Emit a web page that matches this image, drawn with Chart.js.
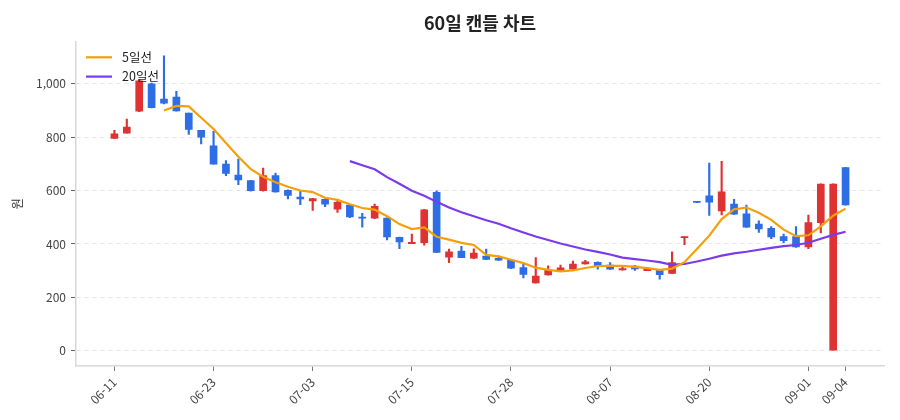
<!DOCTYPE html>
<html lang="ko">
<head>
<meta charset="utf-8">
<title>60일 캔들 차트</title>
<script src="https://cdn.jsdelivr.net/npm/chart.js@4/dist/chart.umd.min.js"></script>
<style>
  html, body { margin: 0; padding: 0; background: #fff; }
  #wrap { width: 900px; height: 420px; }
</style>
</head>
<body>
<div id="wrap"><canvas id="chart"></canvas></div>
<script>
// 60 trading days (MM-DD)
const dates = [
  '06-11','06-12','06-13','06-16','06-17','06-18','06-19','06-20','06-23','06-24',
  '06-25','06-26','06-27','06-30','07-01','07-02','07-03','07-04','07-07','07-08',
  '07-09','07-10','07-11','07-14','07-15','07-16','07-17','07-18','07-21','07-22',
  '07-23','07-24','07-28','07-29','07-30','07-31','08-01','08-04','08-05','08-06',
  '08-07','08-08','08-11','08-12','08-13','08-14','08-18','08-19','08-20','08-21',
  '08-22','08-25','08-26','08-27','08-28','08-29','09-01','09-02','09-03','09-04',
];
const opens = [
  795, 815, 897, 1000, 943, 950, 890, 826, 768, 699,
  658, 637, 600, 656, 601, 576, 561, 567, 530, 546,
  501, 497, 497, 425, 401, 405, 593, 351, 373, 347,
  355, 346, 340, 312, 254, 284, 300, 306, 325, 331,
  321, 303, 317, 300, 303, 290, 424, 560, 580, 524,
  549, 513, 475, 459, 428, 428, 389, 480, 0, 686,
];
const highs = [
  826, 868, 1015, 1003, 1105, 972, 890, 826, 822, 712,
  718, 638, 684, 666, 603, 597, 571, 569, 563, 547,
  515, 549, 498, 426, 437, 530, 599, 381, 391, 382,
  381, 355, 341, 326, 349, 318, 321, 336, 339, 333,
  330, 318, 319, 312, 305, 371, 428, 560, 703, 710,
  567, 546, 487, 465, 437, 465, 508, 625, 625, 687,
];
const lows = [
  795, 815, 896, 910, 925, 897, 810, 775, 699, 656,
  622, 598, 598, 594, 569, 547, 526, 540, 518, 499,
  463, 495, 415, 382, 401, 396, 367, 330, 349, 345,
  341, 338, 308, 273, 253, 283, 299, 305, 324, 306,
  305, 302, 301, 300, 268, 289, 397, 555, 507, 509,
  511, 462, 443, 420, 405, 387, 382, 441, 0, 545,
];
const closes = [
  813, 838, 1011, 911, 927, 898, 829, 800, 699, 664,
  640, 600, 656, 595, 582, 569, 570, 549, 556, 501,
  497, 541, 426, 408, 406, 528, 368, 371, 349, 366,
  342, 339, 309, 286, 280, 302, 311, 325, 333, 317,
  306, 308, 307, 309, 285, 330, 428, 556, 557, 595,
  512, 463, 456, 426, 412, 389, 480, 624, 624, 546,
];
const tickIndex = [0, 8, 16, 24, 32, 40, 48, 56, 59];
const yTicks = [0, 200, 400, 600, 800, 1000];

const UP = '#df3333';
const DOWN = '#2d6de6';
const MA5_COLOR = '#f59f0a';
const MA20_COLOR = '#7b3aec';

/** simple moving average of closes, null until the window is full */
function movingAverage(values, n) {
  return values.map((_, i) => {
    if (i < n - 1) return null;
    let sum = 0;
    for (let j = i - n + 1; j <= i; j++) sum += values[j];
    return sum / n;
  });
}

const ma5 = movingAverage(closes, 5);
const ma20 = movingAverage(closes, 20);

const candleColor = ctx => (closes[ctx.dataIndex] >= opens[ctx.dataIndex] ? UP : DOWN);

/** legend drawn inside the plot, top-left, stacked vertically */
const insideLegend = {
  id: 'insideLegend',
  afterDatasetsDraw(chart) {
    const { ctx, chartArea } = chart;
    const items = chart.data.datasets.filter(ds => ds.type === 'line');
    ctx.save();
    ctx.font = "12.5px 'Noto Sans CJK KR', 'Noto Sans', sans-serif";
    ctx.textBaseline = 'middle';
    items.forEach((ds, k) => {
      const y = chartArea.top + 15.7 + k * 19.3;
      const x = chartArea.left + 10;
      ctx.strokeStyle = ds.borderColor;
      ctx.lineWidth = ds.borderWidth;
      ctx.beginPath();
      ctx.moveTo(x, y);
      ctx.lineTo(x + 26, y);
      ctx.stroke();
      ctx.fillStyle = '#222';
      ctx.fillText(ds.label, x + 36, y);
    });
    ctx.restore();
  },
};

Chart.defaults.font.family = "'Noto Sans CJK KR', 'Noto Sans', sans-serif";
Chart.defaults.color = '#444';

new Chart(document.getElementById('chart'), {
  data: {
    datasets: [
      {
        type: 'line',
        label: '5일선',
        data: ma5.map((v, i) => ({ x: i, y: v })),
        borderColor: MA5_COLOR,
        backgroundColor: MA5_COLOR,
        borderWidth: 2.2,
        pointRadius: 0,
        tension: 0,
        order: 0,
      },
      {
        type: 'line',
        label: '20일선',
        data: ma20.map((v, i) => ({ x: i, y: v })),
        borderColor: MA20_COLOR,
        backgroundColor: MA20_COLOR,
        borderWidth: 2.2,
        pointRadius: 0,
        tension: 0,
        order: 1,
      },
      {
        type: 'bar',
        label: 'body',
        data: opens.map((o, i) => ({ x: i, y: [o, closes[i]] })),
        backgroundColor: candleColor,
        barThickness: 7,
        grouped: false,
        order: 2,
      },
      {
        type: 'bar',
        label: 'wick',
        data: lows.map((l, i) => ({ x: i, y: [l, highs[i]] })),
        backgroundColor: candleColor,
        barThickness: 1.5,
        grouped: false,
        order: 3,
      },
    ],
  },
  plugins: [insideLegend],
  options: {
    responsive: true,
    maintainAspectRatio: false,
    animation: false,
    layout: { padding: { left: 8, right: 16, top: 2, bottom: 0 } },
    plugins: {
      title: {
        display: true,
        text: '60일 캔들 차트',
        fullSize: false,
        color: '#222',
        font: { size: 18, weight: 'bold' },
        padding: { top: 10, bottom: 8 },
      },
      legend: { display: false },
      tooltip: { enabled: false },
    },
    scales: {
      x: {
        type: 'linear',
        min: -3.1,
        max: 62.1,
        offset: false,
        afterFit(scale) { scale.height = 54; },
        afterBuildTicks(scale) { scale.ticks = tickIndex.map(v => ({ value: v })); },
        grid: { drawOnChartArea: false, offset: false, tickLength: 5, tickColor: '#777' },
        border: { color: '#d5d9df', width: 1.5 },
        ticks: {
          autoSkip: false,
          minRotation: 45,
          maxRotation: 45,
          padding: 4,
          font: { size: 12 },
          callback: v => dates[v],
        },
      },
      y: {
        min: -57,
        max: 1158,
        afterFit(scale) { scale.width = 68; },
        afterBuildTicks(scale) { scale.ticks = yTicks.map(v => ({ value: v })); },
        title: { display: true, text: '원', color: '#333', font: { size: 12.5 }, padding: 2 },
        grid: { color: '#e6e6e6', tickLength: 5, tickColor: '#666' },
        border: { color: '#d5d9df', width: 1.5, dash: [4, 4] },
        ticks: { padding: 5, font: { size: 12 } },
      },
    },
  },
});
</script>
</body>
</html>
